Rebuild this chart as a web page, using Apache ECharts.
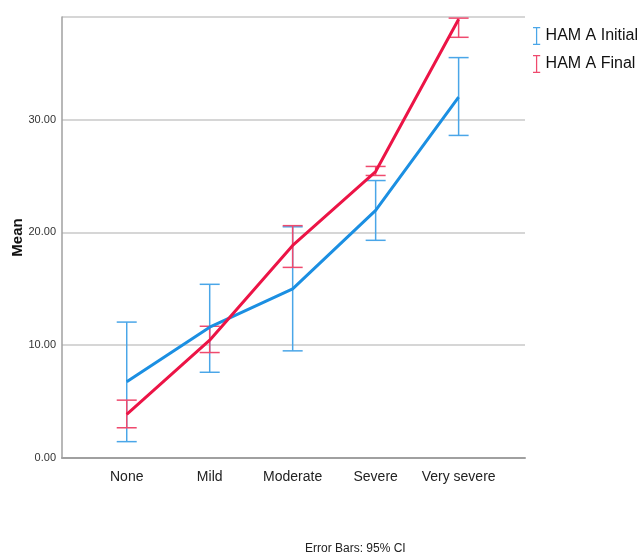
<!DOCTYPE html>
<html>
<head>
<meta charset="utf-8">
<script src="https://cdn.jsdelivr.net/npm/echarts@6/dist/echarts.min.js"></script>
<style>
  html, body { margin: 0; padding: 0; background: #fff; }
  #chart { width: 643px; height: 557px; }
</style>
</head>
<body>
<div id="chart"></div>
<script>
var categories = ['None', 'Mild', 'Moderate', 'Severe', 'Very severe'];
var initialMean = [6.75, 11.6, 15.0, 21.95, 32.0];
var initialLow = [1.45, 7.6, 9.5, 19.3, 28.6];
var initialHigh = [12.05, 15.4, 20.5, 24.6, 35.5];
var finalMean = [3.87, 10.45, 18.85, 25.4, 38.9];
var finalLow = [2.68, 9.35, 16.9, 25.05, 37.3];
var finalHigh = [5.13, 11.68, 20.6, 25.85, 39.0];
var yTicks = [0, 10, 20, 30];

var blue = '#1b8fe2';
var blueBar = '#4aa6e8';
var red = '#ec1446';
var redBar = '#ef4a6e';
var font = 'Liberation Sans Narrow, Liberation Sans, Arial';

function pts(arr) {
    return arr.map(function (v, i) { return [i, v]; });
}
function bars(low, high) {
    return low.map(function (v, i) { return [i, v, high[i]]; });
}
function errorRender(color) {
    return function (params, api) {
        var x = api.value(0);
        var lo = api.coord([x, api.value(1)]);
        var hi = api.coord([x, api.value(2)]);
        var half = 10;
        var style = { stroke: color, lineWidth: 1.5 };
        return {
            type: 'group',
            children: [
                { type: 'line', shape: { x1: lo[0], y1: lo[1], x2: hi[0], y2: hi[1] }, style: style },
                { type: 'line', shape: { x1: lo[0] - half, y1: lo[1], x2: lo[0] + half, y2: lo[1] }, style: style },
                { type: 'line', shape: { x1: hi[0] - half, y1: hi[1], x2: hi[0] + half, y2: hi[1] }, style: style }
            ]
        };
    };
}

var ibeam = 'path://M0,0H8V1.4H4.7V18.6H8V20H0V18.6H3.3V1.4H0Z';

var myChart = echarts.init(document.getElementById('chart'));
var option = {
    animation: false,
    backgroundColor: '#fff',
    textStyle: { fontFamily: font },
    grid: { left: 62, right: 118, top: 17, bottom: 99, outerBoundsMode: 'none', containLabel: false },
    legend: {
        orient: 'vertical',
        left: 528,
        top: 22,
        itemGap: 10,
        itemWidth: 8,
        itemHeight: 18,
        selectedMode: false,
        textStyle: { fontFamily: 'Liberation Sans, Arial', fontSize: 16, color: '#111' },
        data: [
            { name: 'HAM A Initial', icon: ibeam, itemStyle: { color: blueBar } },
            { name: 'HAM A Final', icon: ibeam, itemStyle: { color: redBar } }
        ]
    },
    graphic: [{
        type: 'text',
        left: 305,
        top: 543,
        style: { text: 'Error Bars: 95% CI', fontFamily: font, fontSize: 12, fill: '#222' }
    }],
    xAxis: {
        type: 'value',
        min: -0.78,
        max: 4.8,
        axisLine: { show: true, onZero: false, lineStyle: { color: '#a0a0a0', width: 2 } },
        axisTick: { show: false },
        splitLine: { show: false },
        axisLabel: {
            customValues: [0, 1, 2, 3, 4],
            formatter: function (v) { return categories[Math.round(v)]; },
            fontSize: 14,
            color: '#222',
            margin: 12
        }
    },
    yAxis: {
        type: 'value',
        min: 0,
        max: 39.1,
        name: 'Mean',
        nameLocation: 'middle',
        nameGap: 37,
        nameMoveOverlap: false,
        nameTextStyle: { fontFamily: 'Liberation Sans, Arial', fontWeight: 'bold', fontSize: 15, color: '#111' },
        axisLine: { show: true, onZero: false, lineStyle: { color: '#a0a0a0', width: 1.5 } },
        axisTick: { show: false },
        splitLine: { show: true, lineStyle: { color: '#c8c8c8', width: 1.5 } },
        axisLabel: {
            customValues: yTicks,
            formatter: function (v) { return v.toFixed(2); },
            fontSize: 11,
            color: '#333',
            margin: 6
        },
        interval: 10
    },
    series: [
        {
            name: 'HAM A Initial',
            type: 'line',
            data: pts(initialMean),
            symbol: 'none',
            lineStyle: { color: blue, width: 3 },
            itemStyle: { color: blueBar },
            z: 3
        },
        {
            name: 'HAM A Final',
            type: 'line',
            data: pts(finalMean),
            symbol: 'none',
            lineStyle: { color: red, width: 3 },
            itemStyle: { color: redBar },
            z: 4
        },
        {
            name: 'HAM A Initial',
            type: 'custom',
            data: bars(initialLow, initialHigh),
            renderItem: errorRender(blueBar),
            encode: { x: 0, y: [1, 2] },
            clip: true,
            z: 2
        },
        {
            name: 'HAM A Final',
            type: 'custom',
            data: bars(finalLow, finalHigh),
            renderItem: errorRender(redBar),
            encode: { x: 0, y: [1, 2] },
            clip: true,
            z: 2
        }
    ]
};
myChart.setOption(option);
</script>
</body>
</html>
